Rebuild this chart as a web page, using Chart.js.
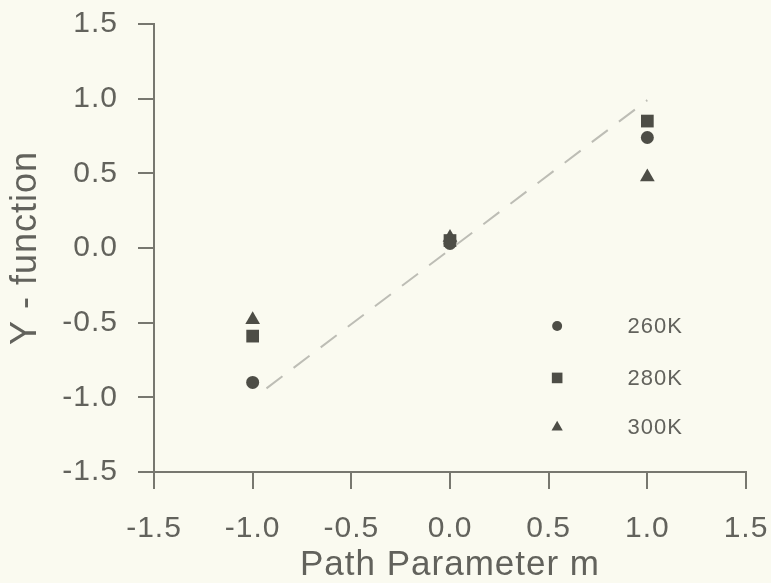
<!DOCTYPE html>
<html>
<head>
<meta charset="utf-8">
<script src="https://cdn.jsdelivr.net/npm/chart.js@4.4.1/dist/chart.umd.min.js"></script>
<style>
  html, body { margin: 0; padding: 0; background: #fafaf0; }
  #box { width: 771px; height: 583px; }
</style>
</head>
<body>
<div id="box"><canvas id="yChart" width="771" height="583"></canvas></div>
<script>
// path parameter m for every temperature
const pathM = [-1.0, 0.0, 1.0];

// Y-function per temperature
const y260 = [-0.90, 0.03, 0.74];
const y280 = [-0.59, 0.05, 0.85];
const y300 = [-0.48, 0.07, 0.475];

// dashed reference line (ideal Y = m)
const refM = [-0.93, 1.0];
const refY = [-0.94, 0.99];

const seriesLabels = ["260K", "280K", "300K"];
const tickValues = [-1.5, -1.0, -0.5, 0.0, 0.5, 1.0, 1.5];

const ink = "#4d4d46";
const textGray = "#62625c";
const axisGray = "#77776f";
const fontFamily = "'Liberation Sans', Arial, sans-serif";

const pts = (xs, ys) => xs.map((x, i) => ({ x: x, y: ys[i] }));

// slightly spaced lettering, set again after every canvas resize
const spacing = {
    id: "spacing",
    beforeLayout(chart) { chart.ctx.letterSpacing = "1px"; },
    beforeDraw(chart) { chart.ctx.letterSpacing = "1px"; }
};

// cream paper background
const paperBg = {
    id: "paperBg",
    beforeDraw(chart) {
        const c = chart.ctx;
        c.save();
        c.fillStyle = "#fafaf0";
        c.fillRect(0, 0, chart.width, chart.height);
        c.restore();
    }
};

// legend sitting inside the plot, lower right
const innerLegend = {
    id: "innerLegend",
    afterDraw(chart) {
        const c = chart.ctx;
        const a = chart.chartArea;
        const mx = a.left + (a.right - a.left) * 0.681;
        const tx = a.left + (a.right - a.left) * 0.80;
        const rows = [0.674, 0.79, 0.9];
        const styles = [
            { pointStyle: "circle", radius: 5 },
            { pointStyle: "rect", radius: 7.5 },
            { pointStyle: "triangle", radius: 6.5 }
        ];
        c.save();
        c.font = "22px " + fontFamily;
        c.textBaseline = "middle";
        c.textAlign = "left";
        rows.forEach((r, i) => {
            const y = a.top + (a.bottom - a.top) * r;
            c.fillStyle = ink;
            c.strokeStyle = ink;
            Chart.helpers.drawPoint(c, {
                pointStyle: styles[i].pointStyle,
                radius: styles[i].radius,
                rotation: 0,
                borderWidth: 0
            }, mx, y);
            c.fillStyle = textGray;
            c.fillText(seriesLabels[i], tx, y + 1);
        });
        c.restore();
    }
};

// fixed box sizes, no extra room for overhanging tick labels
const fitX = s => {
    s.height = 111;
    s.paddingLeft = 0; s.paddingRight = 0; s.paddingTop = 0; s.paddingBottom = 0;
};
const fitY = s => {
    s.width = 154;
    s.paddingLeft = 0; s.paddingRight = 0; s.paddingTop = 0; s.paddingBottom = 0;
};

const axisFont = { family: fontFamily, size: 30 };

new Chart(document.getElementById("yChart"), {
    type: "scatter",
    data: {
        datasets: [
            {
                type: "line",
                label: "ref",
                data: pts(refM, refY),
                borderColor: "#bdbdb5",
                borderWidth: 2,
                borderDash: [20, 14],
                pointRadius: 0,
                fill: false
            },
            {
                label: seriesLabels[0],
                data: pts(pathM, y260),
                pointStyle: "circle",
                pointRadius: 6.5,
                backgroundColor: ink,
                borderColor: ink,
                borderWidth: 0
            },
            {
                label: seriesLabels[1],
                data: pts(pathM, y280),
                pointStyle: "rect",
                pointRadius: 9,
                backgroundColor: ink,
                borderColor: ink,
                borderWidth: 0
            },
            {
                label: seriesLabels[2],
                data: pts(pathM, y300),
                pointStyle: "triangle",
                pointRadius: 8.5,
                backgroundColor: ink,
                borderColor: ink,
                borderWidth: 0
            }
        ]
    },
    options: {
        responsive: false,
        animation: false,
        layout: { padding: { top: 24, right: 25, left: 0, bottom: 0 } },
        plugins: {
            legend: { display: false },
            tooltip: { enabled: false }
        },
        scales: {
            x: {
                type: "linear",
                min: -1.5,
                max: 1.5,
                afterBuildTicks: s => { s.ticks = tickValues.map(v => ({ value: v })); },
                afterFit: fitX,
                border: { display: true, color: axisGray, width: 2 },
                grid: { drawOnChartArea: false, drawTicks: true, tickLength: 17, color: axisGray, lineWidth: 2 },
                ticks: {
                    color: textGray,
                    font: axisFont,
                    padding: 22,
                    maxRotation: 0,
                    callback: v => v.toFixed(1)
                },
                title: {
                    display: true,
                    text: "Path Parameter m",
                    color: textGray,
                    font: { family: fontFamily, size: 35 },
                    padding: { top: 0, bottom: -3 }
                }
            },
            y: {
                type: "linear",
                min: -1.5,
                max: 1.5,
                afterBuildTicks: s => { s.ticks = tickValues.map(v => ({ value: v })); },
                afterFit: fitY,
                border: { display: true, color: axisGray, width: 2 },
                grid: { drawOnChartArea: false, drawTicks: true, tickLength: 16, color: axisGray, lineWidth: 2 },
                ticks: {
                    color: textGray,
                    font: axisFont,
                    padding: 20,
                    callback: v => v.toFixed(1)
                },
                title: {
                    display: true,
                    text: "Y - function",
                    color: textGray,
                    font: { family: fontFamily, size: 36 },
                    padding: { top: 4, bottom: 0 }
                }
            }
        }
    },
    plugins: [spacing, paperBg, innerLegend]
});
</script>
</body>
</html>
